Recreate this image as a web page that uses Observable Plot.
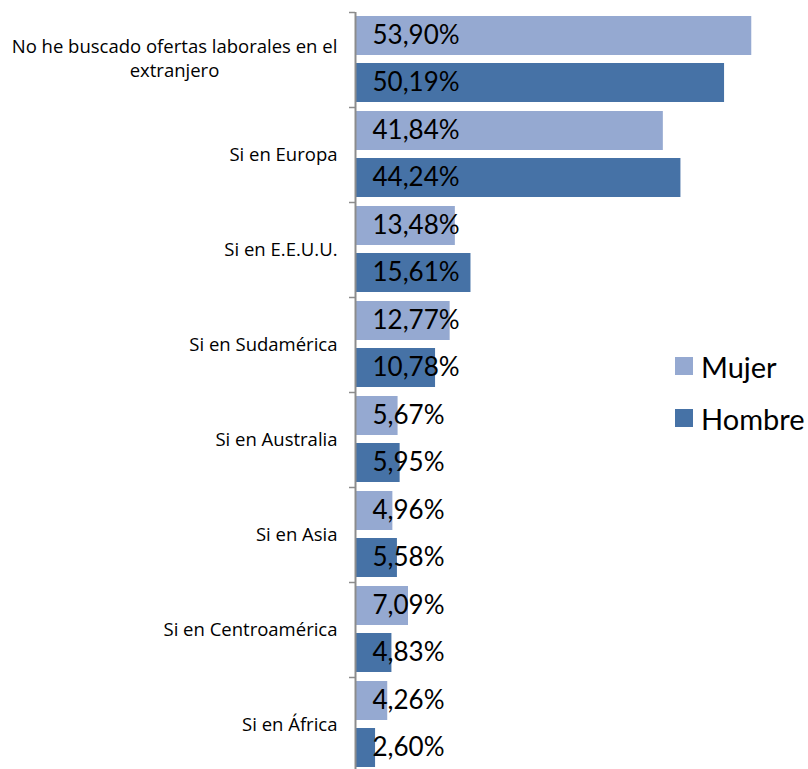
<!DOCTYPE html>
<html>
<head>
<meta charset="utf-8">
<script src="https://cdn.jsdelivr.net/npm/d3@7"></script>
<script src="https://cdn.jsdelivr.net/npm/@observablehq/plot@0.6"></script>
<style>
  html, body { margin: 0; padding: 0; background: #fff; overflow: hidden; }
  #wrap { position: relative; width: 808px; height: 769px; }
  #legend { position: absolute; left: 675px; top: 340px; font-family: Lato, sans-serif; font-size: 29px; color: #000; }
  .item { display: flex; align-items: center; height: 52px; }
  .sw { width: 18px; height: 18px; margin-right: 8px; }
</style>
</head>
<body>
<div id="wrap"></div>
<script>
const categories = [
  "No he buscado ofertas laborales en el extranjero",
  "Si en Europa",
  "Si en E.E.U.U.",
  "Si en Sudamérica",
  "Si en Australia",
  "Si en Asia",
  "Si en Centroamérica",
  "Si en África"
];
const series = ["Mujer", "Hombre"];
const mujer  = [53.90, 41.84, 13.48, 12.77, 5.67, 4.96, 7.09, 4.26];
const hombre = [50.19, 44.24, 15.61, 10.78, 5.95, 5.58, 4.83, 2.60];
const colors = ["#95A9D1", "#4672A6"];

const data = categories.flatMap((c, i) => [
  {cat: c, serie: series[0], value: mujer[i]},
  {cat: c, serie: series[1], value: hombre[i]}
]);
const fmt = d => d.value.toFixed(2).replace(".", ",") + "%";
const wrapLabel = s => {
  if (s.length <= 38) return s;
  const words = s.split(" ");
  let line = "", lines = [];
  for (const w of words) {
    if ((line + " " + w).trim().length > 38) { lines.push(line.trim()); line = w; }
    else line = (line + " " + w).trim();
  }
  lines.push(line);
  return lines.join("\n");
};

const chart = Plot.plot({
  width: 808,
  height: 772,
  marginTop: 12,
  marginBottom: 0,
  marginLeft: 356,
  marginRight: 12,
  style: {fontFamily: "Lato, sans-serif", background: "#fff", overflow: "visible"},
  x: {domain: [0, 60], axis: null},
  y: {domain: series, axis: null, paddingInner: 1 / 6, paddingOuter: 0.073},
  fy: {domain: categories, padding: 0, axis: null},
  color: {domain: series, range: colors},
  marks: [
    Plot.barX(data, {x: "value", y: "serie", fy: "cat", fill: "serie"}),
    Plot.ruleX([0], {stroke: "#8c8c8c", strokeWidth: 2, dx: -1}),
    Plot.axisFy({anchor: "left", ticks: categories, tickSize: 6, text: null, dy: -47.5, dx: -1, stroke: "#8c8c8c", strokeWidth: 1.5, label: null}),
    Plot.axisFy({anchor: "left", ticks: categories.slice(1), tickSize: 0, tickPadding: 19, fontSize: 18.5, fontFamily: "Open Sans, sans-serif", fill: "#000", label: null}),
    Plot.axisFy({anchor: "left", ticks: categories.slice(0, 1), tickSize: 0, tickPadding: 19, fontSize: 18.5, fontFamily: "Open Sans, sans-serif", fill: "#000", label: null,
      tickFormat: wrapLabel, textAnchor: "middle", dx: -163, dy: -3, lineHeight: 1.35}),
    Plot.text(data, {x: 0, y: "serie", fy: "cat", text: fmt, textAnchor: "start", dx: 16, fontSize: 26, fill: "#000"})
  ]
});
document.getElementById("wrap").appendChild(chart);

const legend = document.createElement("div");
legend.id = "legend";
series.forEach((s, i) => {
  const it = document.createElement("div");
  it.className = "item";
  it.innerHTML = `<div class="sw" style="background:${colors[i]}"></div><span>${s}</span>`;
  legend.appendChild(it);
});
document.getElementById("wrap").appendChild(legend);
</script>
</body>
</html>
